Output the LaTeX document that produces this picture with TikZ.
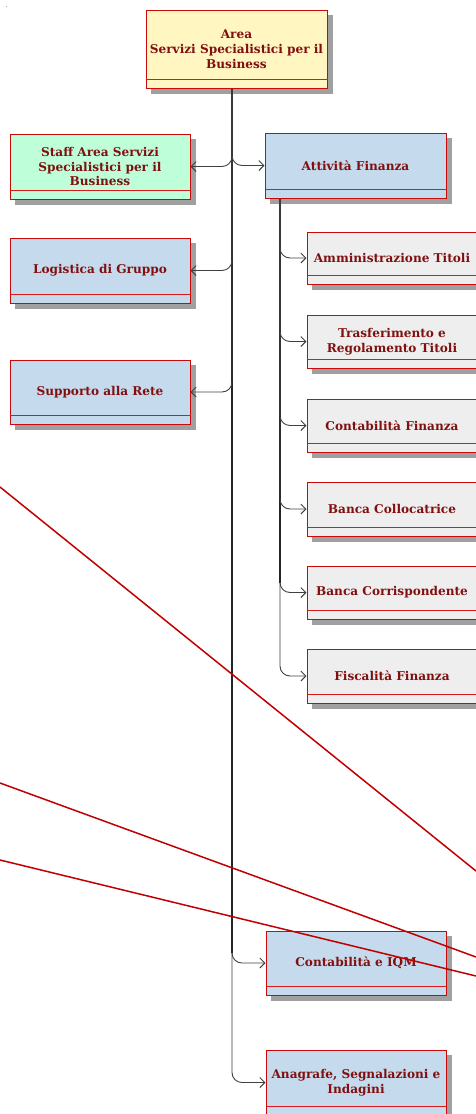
\documentclass[tikz,border=0pt]{standalone}
\usepackage{fontspec}
\setmainfont{DejaVu Serif}
\usetikzlibrary{arrows.meta,calc}
\definecolor{bordercol}{RGB}{200,10,10}
\definecolor{bandcol}{RGB}{215,25,25}
\definecolor{txtcol}{RGB}{128,16,16}
\definecolor{shadowcol}{RGB}{160,160,160}
\definecolor{fyellow}{RGB}{255,246,194}
\definecolor{fmint}{RGB}{190,255,218}
\definecolor{fblue}{RGB}{197,218,236}
\definecolor{fgray}{RGB}{238,238,238}
\definecolor{redline}{RGB}{192,0,0}
\pgfdeclarelayer{shadowlayer}
\pgfdeclarelayer{connlayer}
\pgfsetlayers{shadowlayer,connlayer,main}
\tikzset{
  obox/.style={draw=bordercol, line width=1pt, rectangle, inner sep=0pt, align=center,
    text=txtcol, font=\fontsize{12.1}{14.8}\selectfont\bfseries},
  band/.style={draw=bandcol, line width=1.2pt},
  conn/.style={draw=black!75, line width=0.9pt, rounded corners=10pt,
    -{Straight Barb[length=5pt,width=10pt]}},
  trunk/.style={draw=black, line width=1.5pt},
  diag/.style={draw=redline, line width=1.5pt}
}
\newcommand\obox[7]{%
  \node[obox, fill=#6, minimum width={(#4-#2)*1pt}, minimum height={(#5-#3)*1pt}] (#1) at ({(#2+#4)/2},{(#3+#5)/2}) {#7};
}
\begin{document}
\begin{tikzpicture}[x=1pt,y=-1pt]
\useasboundingbox (0,0) rectangle (476,1114);
\fill[shadowcol] (5.5,5.5) rectangle (7,7);
\obox{top}{146}{10}{327}{88}{fyellow}{Area\\Servizi Specialistici per il\\Business}
\obox{staff}{10}{134}{190}{199}{fmint}{Staff Area Servizi\\Specialistici per il\\Business}
\obox{att}{265}{133}{446}{198}{fblue}{Attività Finanza}
\obox{logistica}{10}{238}{190}{303}{fblue}{Logistica di Gruppo}
\obox{supporto}{10}{360}{190}{424}{fblue}{Supporto alla Rete}
\obox{amm}{307}{232}{477}{284}{fgray}{Amministrazione Titoli}
\obox{trasf}{307}{315}{477}{368}{fgray}{Trasferimento e\\Regolamento Titoli}
\obox{contfin}{307}{399}{477}{452}{fgray}{Contabilità Finanza}
\obox{colloc}{307}{482}{477}{536}{fgray}{Banca Collocatrice}
\obox{corrisp}{307}{566}{477}{619}{fgray}{Banca Corrispondente}
\obox{fisc}{307}{649}{477}{703}{fgray}{Fiscalità Finanza}
\obox{contiqm}{266}{931}{446}{995}{fblue}{Contabilità e IQM}
\obox{anagrafe}{266}{1050}{446}{1115}{fblue}{Anagrafe, Segnalazioni e\\Indagini}
\foreach \n in {top,staff,att,logistica,supporto,amm,trasf,contfin,colloc,corrisp,fisc,contiqm,anagrafe}{
  \draw[band] ([yshift=9pt]\n.south west) -- ([yshift=9pt]\n.south east);
}
\begin{pgfonlayer}{shadowlayer}
\foreach \n in {top,staff,att,logistica,supporto,amm,trasf,contfin,colloc,corrisp,fisc,contiqm,anagrafe}{
  \fill[shadowcol] ([shift={(5,5)}]\n.north west) rectangle ([shift={(5,5)}]\n.south east);
}
\end{pgfonlayer}
\begin{pgfonlayer}{connlayer}
\draw[trunk] ([xshift=-4.5pt]top.south) -- ($(top.south |- contiqm.west)+(-4.5,-10)$);
\draw[trunk] ([xshift=-75.5pt]att.south) -- ($(att.south |- corrisp.west)+(-75.5,-10)$);
\foreach \t in {staff,logistica,supporto} \draw[conn] ([xshift=-4.5pt]top.south) |- (\t.east);
\foreach \t in {att,contiqm,anagrafe} \draw[conn] ([xshift=-4.5pt]top.south) |- (\t.west);
\foreach \t in {amm,trasf,contfin,colloc,corrisp,fisc} \draw[conn] ([xshift=-75.5pt]att.south) |- (\t.west);
\end{pgfonlayer}
\draw[diag] (0,487) -- (476,871);
\draw[diag] (0,783) -- (476,957);
\draw[diag] (0,860) -- (476,976);
\end{tikzpicture}
\end{document}
